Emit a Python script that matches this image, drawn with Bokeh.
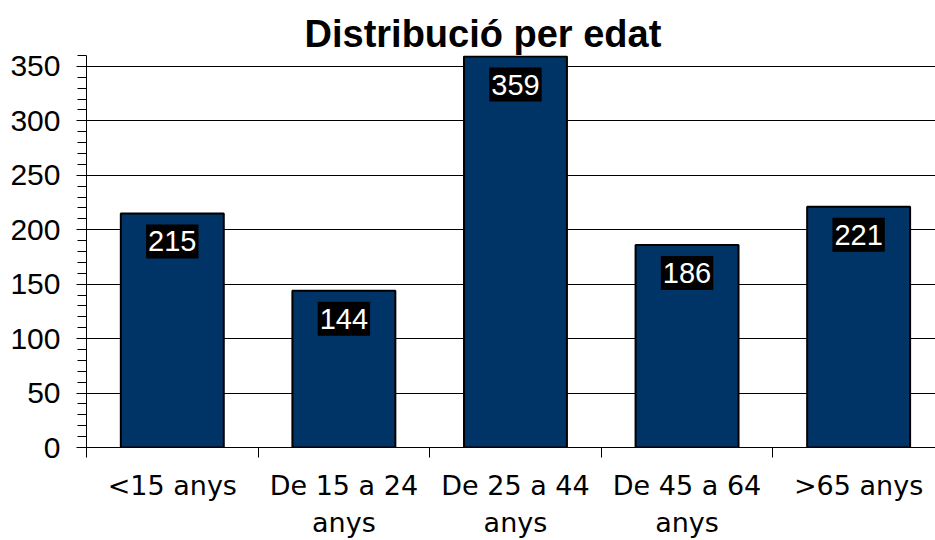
from bokeh.plotting import figure
from bokeh.models import Range1d, LinearAxis, FixedTicker, ColumnDataSource, Title, Grid
from bokeh.core.properties import value
from bokeh.embed import file_html
from bokeh.resources import INLINE

categories = ["<15 anys", "De 15 a 24\nanys", "De 25 a 44\nanys", "De 45 a 64\nanys", ">65 anys"]
counts = [215, 144, 359, 186, 221]
y_ticks = [0, 50, 100, 150, 200, 250, 300, 350]
y_max = 360
title_text = "Distribució per edat"

positions = [i + 0.5 for i in range(len(categories))]
boundaries = list(range(len(categories) + 1))

src = ColumnDataSource(dict(x=positions, top=counts, label=[str(c) for c in counts]))

p = figure(width=935, height=540, output_backend="svg", toolbar_location=None,
           x_range=Range1d(0, 4.948), y_range=Range1d(0, y_max),
           x_axis_type=None, y_axis_type=None,
           min_border_left=86, min_border_right=0, min_border_top=55, min_border_bottom=93)
p.outline_line_color = None
p.background_fill_color = "white"
p.border_fill_color = "white"

t = Title(text=title_text, text_font="Liberation Sans", text_font_size="38px",
          text_font_style="bold", text_color="black", align="left", offset=218, standoff=2)
p.add_layout(t, "above")

# y axis
yax = LinearAxis(ticker=FixedTicker(ticks=y_ticks, minor_ticks=list(range(0, y_max + 1, 10))),
                 major_label_text_font="Liberation Sans", major_label_text_font_size="30px",
                 major_label_text_color="black", major_tick_out=10, major_tick_in=0,
                 minor_tick_out=9, minor_tick_in=0, major_label_standoff=16,
                 axis_line_color="black", major_tick_line_color="black", minor_tick_line_color="black")
p.add_layout(yax, "left")

# x axis with boundary ticks
xax1 = LinearAxis(ticker=FixedTicker(ticks=boundaries, minor_ticks=[]),
                  major_tick_out=10, major_tick_in=0, minor_tick_out=0, minor_tick_in=0,
                  major_label_text_font_size="0px", major_label_standoff=0,
                  axis_line_color="black", major_tick_line_color="black",
                  major_label_overrides={b: "" for b in boundaries})
p.add_layout(xax1, "below")

# x axis with category labels
xax2 = LinearAxis(ticker=FixedTicker(ticks=positions, minor_ticks=[]),
                  major_tick_out=0, major_tick_in=0, minor_tick_out=0, minor_tick_in=0,
                  axis_line_color=None, major_tick_line_color=None,
                  major_label_text_font="DejaVu Sans", major_label_text_font_size="27px",
                  major_label_text_color="black", major_label_standoff=12,
                  major_label_overrides={pos: cat for pos, cat in zip(positions, categories)})
p.add_layout(xax2, "below")

grid = Grid(dimension=1, ticker=FixedTicker(ticks=y_ticks[1:] + [y_max]),
            grid_line_color="black", grid_line_width=1)
p.add_layout(grid, "center")

p.vbar(x="x", top="top", width=0.6, bottom=0, source=src,
       fill_color="#003366", line_color="black", line_width=2)

p.text(x="x", y="top", text="label", source=src, y_offset=28,
       text_font=value("Liberation Sans"), text_font_size="29px", text_color="white",
       text_align="center", text_baseline="middle",
       background_fill_color="black", padding=(2, 7))

open("out.html", "w").write(file_html(p, INLINE))
